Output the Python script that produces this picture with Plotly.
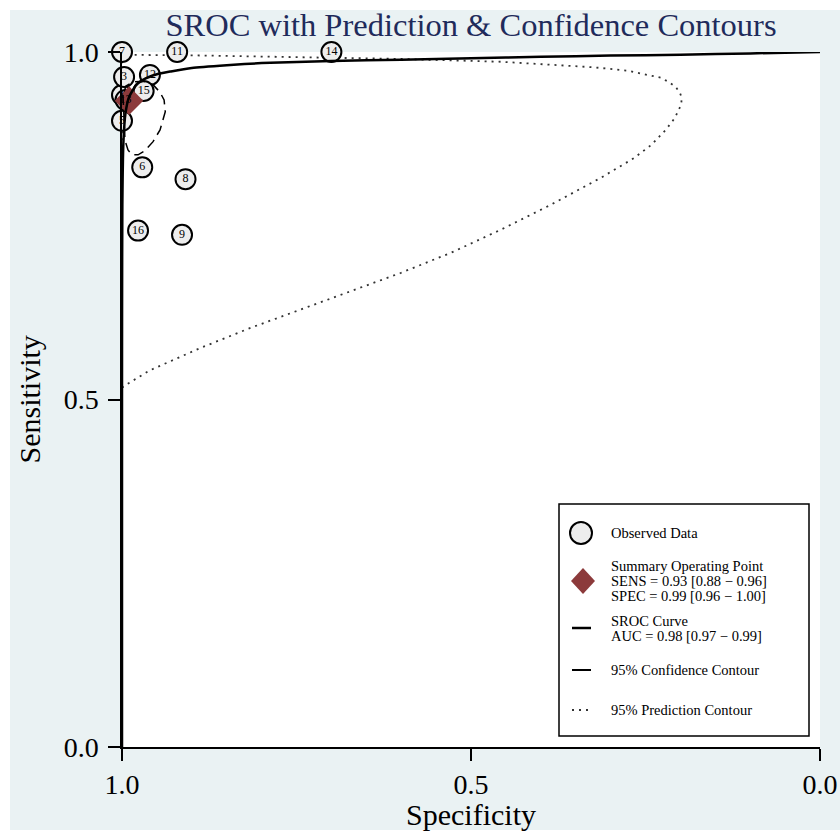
import plotly.graph_objects as go

# ---------------- data ----------------
study_ids = [1, 3, 5, 6, 7, 8, 9, 11, 12, 13, 14, 15, 16]
study_spec = [1.000, 0.997, 1.000, 0.971, 1.000, 0.909, 0.914,
              0.921, 0.960, 0.995, 0.700, 0.969, 0.977]
study_sens = [0.938, 0.964, 0.901, 0.834, 1.000, 0.817, 0.737,
              1.000, 0.967, 0.931, 1.000, 0.944, 0.743]

summary_spec = [0.99]
summary_sens = [0.93]

sroc_spec = [1.0, 1.0, 0.9999, 0.9995, 0.998, 0.995, 0.99, 0.98, 0.97, 0.95,
             0.93, 0.90, 0.85, 0.80, 0.70, 0.60, 0.50, 0.40, 0.30, 0.20,
             0.10, 0.0]
sroc_sens = [0.0, 0.50, 0.63, 0.78, 0.87, 0.912, 0.935, 0.952, 0.960, 0.968,
             0.972, 0.977, 0.981, 0.984, 0.987, 0.989, 0.991, 0.993, 0.995,
             0.996, 0.998, 1.0]

conf_spec = [0.9986, 0.997, 0.9957, 0.9914, 0.9857, 0.977, 0.967, 0.9555,
             0.9455, 0.938, 0.9397, 0.9455, 0.9555, 0.970, 0.984, 0.9943, 0.9986]
conf_sens = [0.938, 0.902, 0.873, 0.859, 0.852, 0.852, 0.858, 0.871,
             0.888, 0.914, 0.931, 0.942, 0.953, 0.958, 0.957, 0.951, 0.938]

pred_spec = [1.0, 0.9928, 0.960, 0.888, 0.816, 0.745, 0.673, 0.601, 0.529,
             0.458, 0.386, 0.314, 0.267, 0.242, 0.221, 0.208, 0.199, 0.198,
             0.201, 0.207, 0.217, 0.228, 0.247, 0.275, 0.324, 0.372, 0.458,
             0.601, 0.745, 0.888, 1.0, 1.0]
pred_sens = [0.517, 0.522, 0.542, 0.574, 0.603, 0.629, 0.655, 0.682, 0.711,
             0.744, 0.780, 0.819, 0.847, 0.866, 0.888, 0.905, 0.924, 0.934,
             0.942, 0.950, 0.957, 0.963, 0.967, 0.973, 0.978, 0.981, 0.986,
             0.990, 0.993, 0.995, 0.996, 0.517]

tick_vals = [1.0, 0.5, 0.0]
tick_text = ["1.0", "0.5", "0.0"]

legend_lines = {
    "obs": ["Observed Data"],
    "sum": ["Summary Operating Point", "SENS = 0.93 [0.88 \u2212 0.96]",
            "SPEC = 0.99 [0.96 \u2212 1.00]"],
    "sroc": ["SROC Curve", "AUC = 0.98 [0.97 \u2212 0.99]"],
    "conf": ["95% Confidence Contour"],
    "pred": ["95% Prediction Contour"],
}

# ---------------- geometry helpers ----------------
W, H = 840, 833
ML, MR, MT, MB = 122, 20, 52, 86
PW, PH = W - ML - MR, H - MT - MB
FONT = "Liberation Serif"
BG = "#EAF2F3"
RED = "#8C3A3B"


def px(x):
    return (x - ML) / PW


def py(y):
    return (H - MB - y) / PH


fig = go.Figure()

# prediction contour (dotted)
fig.add_trace(go.Scatter(x=pred_spec, y=pred_sens, mode="lines",
                         line=dict(color="#333333", width=1.8, dash="2px,5px"),
                         cliponaxis=False, hoverinfo="skip"))
# observed data circles
fig.add_trace(go.Scatter(x=study_spec, y=study_sens, mode="markers",
                         marker=dict(size=20, color="#EDEDED",
                                     line=dict(color="black", width=2)),
                         cliponaxis=False))
# summary point
fig.add_trace(go.Scatter(x=summary_spec, y=summary_sens, mode="markers",
                         marker=dict(symbol="diamond", size=22, color=RED,
                                     line=dict(width=0)),
                         cliponaxis=False))
# study labels
fig.add_trace(go.Scatter(x=study_spec, y=study_sens, mode="text",
                         text=[str(i) for i in study_ids],
                         textposition="middle center",
                         textfont=dict(family=FONT, size=12, color="black"),
                         cliponaxis=False, hoverinfo="skip"))
# confidence contour (dashed)
fig.add_trace(go.Scatter(x=conf_spec, y=conf_sens, mode="lines",
                         line=dict(color="black", width=1.5, dash="10px,6px"),
                         cliponaxis=False, hoverinfo="skip"))
# SROC curve
fig.add_trace(go.Scatter(x=sroc_spec, y=sroc_sens, mode="lines",
                         line=dict(color="black", width=2.5, shape="spline",
                                   smoothing=0.5),
                         cliponaxis=False, hoverinfo="skip"))

axis_common = dict(
    tickvals=tick_vals, ticktext=tick_text, showgrid=False, zeroline=False,
    showline=True, linecolor="black", linewidth=1.5, ticks="outside",
    ticklen=12, tickwidth=1.5, tickcolor="black", automargin=False,
    tickfont=dict(family=FONT, size=28, color="black"), fixedrange=True,
)
fig.update_xaxes(range=[1, 0], **axis_common)
fig.update_yaxes(range=[0, 1], ticklabelstandoff=4, **axis_common)

shapes = [
    dict(type="rect", xref="paper", yref="paper", x0=px(10), x1=px(840),
         y0=py(830), y1=py(10), fillcolor=BG, line=dict(width=0), layer="below"),
    dict(type="rect", xref="paper", yref="paper", x0=0, x1=1, y0=0, y1=1,
         fillcolor="white", line=dict(width=0), layer="below"),
    # legend box
    dict(type="rect", xref="paper", yref="paper", x0=px(559), x1=px(809),
         y0=py(736), y1=py(504), fillcolor="white",
         line=dict(color="black", width=1.5), layer="above"),
    # legend keys
    dict(type="circle", xref="paper", yref="paper", x0=px(570), x1=px(592),
         y0=py(544), y1=py(522), fillcolor="#EDEDED",
         line=dict(color="black", width=2), layer="above"),
    dict(type="path", xref="paper", yref="paper",
         path=f"M {px(571)},{py(581)} L {px(583)},{py(568)} L {px(595)},{py(581)} L {px(583)},{py(594)} Z",
         fillcolor=RED, line=dict(width=0), layer="above"),
    dict(type="line", xref="paper", yref="paper", x0=px(572), x1=px(591),
         y0=py(628), y1=py(628), line=dict(color="black", width=2.5), layer="above"),
    dict(type="line", xref="paper", yref="paper", x0=px(572), x1=px(591),
         y0=py(670), y1=py(670), line=dict(color="black", width=2), layer="above"),
    dict(type="line", xref="paper", yref="paper", x0=px(572), x1=px(592),
         y0=py(710), y1=py(710), line=dict(color="#333333", width=1.8, dash="2px,5px"),
         layer="above"),
]

annotations = [
    dict(text="Sensitivity", xref="paper", yref="paper", x=px(29), y=0.5,
         textangle=-90, showarrow=False, xanchor="center", yanchor="middle",
         font=dict(family=FONT, size=30, color="black")),
    dict(text="Specificity", xref="paper", yref="paper", x=0.5, y=py(814),
         showarrow=False, xanchor="center", yanchor="middle",
         font=dict(family=FONT, size=30, color="black")),
]
leg_rows = [("obs", [533]), ("sum", [566, 581, 596]), ("sroc", [621, 636]),
            ("conf", [670]), ("pred", [710])]
for key, ys in leg_rows:
    for txt, yy in zip(legend_lines[key], ys):
        annotations.append(dict(text=txt, xref="paper", yref="paper", x=px(609),
                                y=py(yy), showarrow=False, xanchor="left",
                                yanchor="middle",
                                font=dict(family=FONT, size=14.5, color="black")))

fig.update_layout(
    template="none",
    width=W, height=H,
    margin=dict(l=ML, r=MR, t=MT, b=MB, pad=0, autoexpand=False),
    paper_bgcolor="white", plot_bgcolor="white",
    showlegend=False,
    font=dict(family=FONT, color="black"),
    title=dict(text="SROC with Prediction & Confidence Contours",
               x=0.5, xref="paper", xanchor="center",
               y=1 - 25 / H, yref="container", yanchor="middle",
               font=dict(family=FONT, size=32.5, color="#1F2B5B")),
    shapes=shapes, annotations=annotations,
)

fig.write_html("out.html")
